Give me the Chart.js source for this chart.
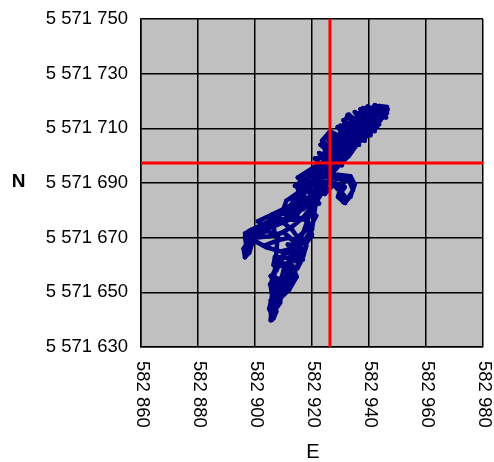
<!DOCTYPE html>
<html>
<head>
<meta charset="utf-8">
<script src="https://cdn.jsdelivr.net/npm/chart.js@4/dist/chart.umd.min.js"></script>
<style>
  html, body { margin: 0; padding: 0; background: #ffffff; }
  canvas { display: block; }
</style>
</head>
<body>
<canvas id="c" width="494" height="462"></canvas>
<script>
// Axis ticks (projected metres) and their printed labels
const eastTicks = [582860, 582880, 582900, 582920, 582940, 582960, 582980];
const eastTickLabels = ['582 860', '582 880', '582 900', '582 920', '582 940', '582 960', '582 980'];
const northTicks = [5571630, 5571650, 5571670, 5571690, 5571710, 5571730, 5571750];
const northTickLabels = ['5 571 630', '5 571 650', '5 571 670', '5 571 690', '5 571 710', '5 571 730', '5 571 750'];

// Recorded position track, in order
const trackEast = [
  582905.9, 582906.5, 582905.5, 582908.5, 582907.0, 582905.3, 582909.0, 582912.0, 582911.0, 582914.5,
  582913.0, 582908.0, 582907.5, 582910.0, 582915.5, 582917.0, 582913.0, 582909.0, 582904.0, 582900.5,
  582896.5, 582897.0, 582896.5, 582898.0, 582899.0, 582901.5, 582904.5, 582907.0, 582906.5, 582910.0,
  582913.0, 582915.0, 582918.0, 582920.0, 582918.5, 582914.0, 582912.0, 582916.5, 582915.0, 582918.0,
  582920.5, 582919.5, 582917.0, 582921.0, 582923.0, 582922.0, 582926.0, 582927.0, 582932.6, 582934.4,
  582931.6, 582929.1, 582930.0, 582927.5, 582925.0, 582923.0, 582921.0, 582924.5, 582927.0, 582929.0,
  582926.0, 582923.5, 582926.0, 582928.5, 582931.0, 582933.0, 582930.5, 582932.5, 582935.0, 582937.0,
  582939.5, 582937.5, 582937.9, 582941.0, 582943.0, 582946.3, 582946.3, 582943.5, 582940.0, 582942.8,
  582938.0, 582935.8, 582933.0, 582930.9, 582928.0, 582926.3, 582924.0, 582920.5, 582917.0, 582916.0,
  582919.0, 582916.5, 582912.3, 582908.0, 582906.3, 582901.8, 582897.2, 582903.0, 582908.0, 582912.0,
  582916.0, 582915.8, 582913.0, 582910.0, 582914.6, 582912.0, 582909.0, 582908.8, 582906.0, 582910.0,
  582917.0, 582919.3, 582922.0, 582924.5, 582927.0, 582930.0, 582933.0, 582935.0, 582938.5, 582941.0,
  582944.0, 582945.5, 582942.0, 582939.0, 582936.0, 582934.0, 582931.5, 582928.5, 582925.5, 582922.5,
  582920.0, 582923.5, 582926.5, 582928.5, 582931.5, 582930.0, 582932.5,
  582926.0, 582929.0, 582933.5, 582935.0, 582933.5, 582931.0, 582929.5, 582931.5, 582928.0, 582924.5,
  582922.0, 582927.0, 582922.5, 582929.0, 582923.0, 582931.0, 582925.0, 582933.0, 582927.0, 582934.5,
  582929.0, 582936.0, 582931.0, 582938.0, 582933.0, 582940.0, 582935.0, 582941.5, 582937.0, 582943.0,
  582939.5, 582945.0, 582942.0, 582946.0, 582944.0, 582940.0, 582943.5, 582937.5, 582941.0, 582935.0,
  582939.0, 582933.0, 582937.0, 582930.0, 582935.5, 582928.0, 582934.0, 582926.0, 582932.0, 582924.5,
  582930.0, 582923.0, 582928.0, 582922.0, 582925.5, 582920.0,
  582920.0, 582914.0, 582918.0, 582913.0, 582921.0, 582911.0, 582917.0, 582909.5, 582915.0, 582906.0,
  582903.0, 582899.0, 582896.5, 582898.0, 582896.0, 582896.5, 582897.5, 582900.0, 582905.0, 582910.0,
  582913.5, 582919.5, 582921.5, 582918.0, 582922.5, 582919.0, 582924.0, 582922.5,
  582920.0, 582916.0, 582911.5, 582915.0, 582916.8, 582912.5, 582907.0, 582906.5, 582910.5, 582914.0,
  582913.0, 582908.0, 582905.5, 582907.5, 582910.5, 582909.0, 582906.0, 582905.5, 582907.5, 582906.5,
  582905.6, 582907.0, 582909.5, 582912.0, 582915.0, 582917.0, 582918.0,
  582917.0, 582915.5, 582913.5, 582911.5, 582909.0, 582907.5, 582906.0,
  582905.0, 582906.0, 582905.5, 582906.5, 582908.0, 582910.5,
  582914.0, 582911.5, 582910.5, 582908.0, 582907.0, 582905.5,
  582908.0, 582913.0, 582917.0, 582920.0, 582922.0, 582925.0,
  582924.5, 582921.0, 582918.5, 582915.5, 582911.5, 582908.0, 582903.0,
  582898.0, 582904.0, 582909.0, 582913.0, 582916.0, 582919.0, 582922.0,
  582921.0, 582914.5, 582911.0, 582910.0, 582906.0, 582901.0,
  582905.0, 582911.0, 582915.0, 582919.0, 582920.5, 582915.0,
  582921.0, 582926.0, 582924.0, 582930.5, 582924.5, 582932.0, 582926.5, 582934.0, 582928.0, 582936.5,
  582930.0, 582938.5, 582932.0, 582940.5, 582934.0, 582942.0, 582936.0, 582943.5, 582938.5, 582946.0,
  582941.0, 582946.5
];
const trackNorth = [
  5571639.9, 5571644.0, 5571647.0, 5571646.0, 5571651.0, 5571653.0, 5571655.0, 5571652.0, 5571657.0, 5571656.0,
  5571660.0, 5571661.0, 5571658.0, 5571663.0, 5571661.0, 5571664.0, 5571666.0, 5571665.0, 5571666.5, 5571668.5,
  5571670.5, 5571666.0, 5571663.0, 5571664.5, 5571668.0, 5571671.5, 5571672.5, 5571671.0, 5571674.5, 5571675.5,
  5571673.0, 5571670.0, 5571668.0, 5571671.0, 5571676.0, 5571678.0, 5571680.0, 5571683.5, 5571688.0, 5571684.0,
  5571681.0, 5571686.0, 5571691.0, 5571689.0, 5571686.0, 5571692.0, 5571692.5, 5571691.8, 5571691.8, 5571687.4,
  5571682.7, 5571684.9, 5571688.0, 5571689.0, 5571694.0, 5571697.0, 5571699.0, 5571699.5, 5571697.0, 5571699.5,
  5571703.0, 5571705.5, 5571708.5, 5571706.0, 5571703.0, 5571705.0, 5571709.5, 5571714.9, 5571711.0, 5571708.0,
  5571709.0, 5571713.0, 5571717.4, 5571716.0, 5571712.5, 5571715.6, 5571717.8, 5571718.2, 5571714.0, 5571710.5,
  5571706.0, 5571704.6, 5571701.0, 5571699.5, 5571696.0, 5571692.2, 5571694.0, 5571695.0, 5571693.0, 5571689.0,
  5571690.5, 5571684.0, 5571677.6, 5571676.0, 5571675.4, 5571672.8, 5571670.2, 5571667.0, 5571669.0, 5571670.0,
  5571666.6, 5571660.6, 5571658.0, 5571656.0, 5571655.7, 5571651.0, 5571648.0, 5571646.1, 5571642.0, 5571658.0,
  5571672.0, 5571679.0, 5571684.0, 5571688.0, 5571693.5, 5571697.0, 5571700.0, 5571703.0, 5571707.5, 5571709.0,
  5571713.0, 5571716.5, 5571717.0, 5571712.0, 5571709.5, 5571707.0, 5571704.5, 5571701.0, 5571698.0, 5571695.5,
  5571693.0, 5571692.0, 5571696.0, 5571691.5, 5571691.0, 5571687.0, 5571684.0,
  5571691.0, 5571693.0, 5571692.5, 5571689.5, 5571685.0, 5571683.0, 5571685.5, 5571688.5, 5571690.0, 5571686.0,
  5571697.0, 5571695.0, 5571701.0, 5571698.0, 5571704.0, 5571700.0, 5571706.5, 5571702.0, 5571708.5, 5571703.5,
  5571710.5, 5571705.0, 5571713.0, 5571706.5, 5571715.0, 5571708.0, 5571716.0, 5571710.0, 5571717.0, 5571712.0,
  5571718.0, 5571714.0, 5571718.5, 5571716.5, 5571714.5, 5571716.5, 5571711.5, 5571715.0, 5571709.5, 5571713.5,
  5571707.5, 5571712.0, 5571706.0, 5571711.0, 5571704.5, 5571708.0, 5571703.0, 5571706.5, 5571701.0, 5571703.0,
  5571698.5, 5571700.0, 5571695.5, 5571697.5, 5571693.5, 5571694.5,
  5571693.0, 5571689.0, 5571687.0, 5571684.0, 5571685.0, 5571681.0, 5571680.5, 5571679.0, 5571676.5, 5571677.0,
  5571674.5, 5571673.0, 5571671.5, 5571669.0, 5571666.0, 5571662.8, 5571666.5, 5571670.0, 5571670.5, 5571672.0,
  5571669.0, 5571674.0, 5571678.0, 5571681.5, 5571682.5, 5571686.5, 5571688.5, 5571691.5,
  5571673.0, 5571667.0, 5571667.5, 5571663.5, 5571662.0, 5571662.5, 5571663.0, 5571660.0, 5571659.5, 5571657.5,
  5571654.0, 5571655.0, 5571656.0, 5571652.5, 5571650.0, 5571648.0, 5571649.0, 5571645.0, 5571643.0, 5571640.5,
  5571642.0, 5571646.5, 5571651.5, 5571655.5, 5571659.0, 5571663.5, 5571667.0,
  5571665.0, 5571661.0, 5571657.0, 5571653.0, 5571649.0, 5571645.0, 5571641.5,
  5571644.0, 5571648.5, 5571652.5, 5571657.0, 5571661.0, 5571664.5,
  5571664.0, 5571660.0, 5571656.0, 5571652.0, 5571647.5, 5571639.8,
  5571671.0, 5571674.0, 5571677.5, 5571681.5, 5571685.0, 5571689.0,
  5571690.5, 5571687.5, 5571684.0, 5571680.5, 5571677.5, 5571675.0, 5571672.5,
  5571672.5, 5571675.5, 5571678.5, 5571682.5, 5571686.5, 5571690.0, 5571693.0,
  5571690.5, 5571686.0, 5571683.5, 5571680.5, 5571678.5, 5571676.0,
  5571673.5, 5571676.0, 5571679.0, 5571683.0, 5571687.0, 5571692.0,
  5571696.0, 5571693.0, 5571698.5, 5571696.5, 5571701.5, 5571699.5, 5571704.0, 5571701.5, 5571706.5, 5571704.0,
  5571708.5, 5571705.5, 5571711.0, 5571707.5, 5571714.0, 5571709.0, 5571715.5, 5571711.5, 5571716.5, 5571714.0,
  5571717.5, 5571717.0
];

// Reference position marked by the crosshair
const crossEast = 582926.3;
const crossNorth = 5571697.3;

const FONT = '"Liberation Sans", Arial, sans-serif';

const trackPoints = trackEast.map((e, i) => ({ x: e, y: trackNorth[i] }));

// Grey plot background plus rotated easting labels and axis letters
const mapFrame = {
  id: 'mapFrame',
  beforeDraw(chart) {
    const { ctx, chartArea: a } = chart;
    ctx.save();
    ctx.fillStyle = '#c0c0c0';
    ctx.fillRect(a.left, a.top, a.right - a.left, a.bottom - a.top);
    ctx.restore();
  },
  afterDraw(chart) {
    const { ctx, chartArea: a, scales } = chart;
    const xs = scales.x;
    ctx.save();
    ctx.fillStyle = '#000000';
    ctx.font = '18.5px ' + FONT;
    ctx.textAlign = 'left';
    ctx.textBaseline = 'middle';
    eastTicks.forEach((v, i) => {
      ctx.save();
      ctx.translate(xs.getPixelForValue(v) + 1, a.bottom + 14);
      ctx.rotate(Math.PI / 2);
      ctx.fillText(eastTickLabels[i], 0, 0);
      ctx.restore();
    });
    ctx.textAlign = 'center';
    ctx.font = 'bold 19px ' + FONT;
    ctx.fillText('N', 18.5, (a.top + a.bottom) / 2 - 1);
    ctx.font = '20px ' + FONT;
    ctx.fillText('E', (a.left + a.right) / 2 + 1, 452);
    ctx.restore();
  }
};

new Chart(document.getElementById('c'), {
  type: 'scatter',
  data: {
    datasets: [
      {
        label: 'crosshair-east',
        data: [{ x: crossEast, y: northTicks[0] }, { x: crossEast, y: northTicks[northTicks.length - 1] }],
        showLine: true,
        borderColor: '#ff0000',
        borderWidth: 3,
        pointRadius: 0,
        order: 1
      },
      {
        label: 'crosshair-north',
        data: [{ x: eastTicks[0], y: crossNorth }, { x: eastTicks[eastTicks.length - 1], y: crossNorth }],
        showLine: true,
        borderColor: '#ff0000',
        borderWidth: 3,
        pointRadius: 0,
        order: 1
      },
      {
        label: 'track',
        data: trackPoints,
        showLine: true,
        borderColor: '#000080',
        backgroundColor: '#000080',
        borderWidth: 4.5,
        borderJoinStyle: 'round',
        borderCapStyle: 'round',
        pointRadius: 2.2,
        pointBorderWidth: 0,
        order: 2
      }
    ]
  },
  options: {
    responsive: false,
    animation: false,
    events: [],
    layout: { autoPadding: false, padding: { left: 0, top: 19, right: 11, bottom: 0 } },
    plugins: { legend: { display: false }, tooltip: { enabled: false } },
    scales: {
      x: {
        type: 'linear',
        min: eastTicks[0],
        max: eastTicks[eastTicks.length - 1],
        ticks: { stepSize: 20, display: false },
        grid: { color: '#000000', lineWidth: 1.5, drawTicks: false },
        border: { color: '#000000', width: 1.5 },
        afterFit(scale) {
          scale.height = 115;
          scale.paddingLeft = 0;
          scale.paddingRight = 0;
        }
      },
      y: {
        type: 'linear',
        min: northTicks[0],
        max: northTicks[northTicks.length - 1],
        ticks: {
          stepSize: 20,
          padding: 13,
          color: '#000000',
          font: { family: FONT, size: 18.5 },
          callback(value) {
            const i = northTicks.indexOf(value);
            return i >= 0 ? northTickLabels[i] : '';
          }
        },
        grid: { color: '#000000', lineWidth: 1.5, drawTicks: false },
        border: { color: '#000000', width: 1.5 },
        afterFit(scale) {
          scale.width = 141;
          scale.paddingTop = 0;
          scale.paddingBottom = 0;
        }
      }
    }
  },
  plugins: [mapFrame]
});
</script>
</body>
</html>
